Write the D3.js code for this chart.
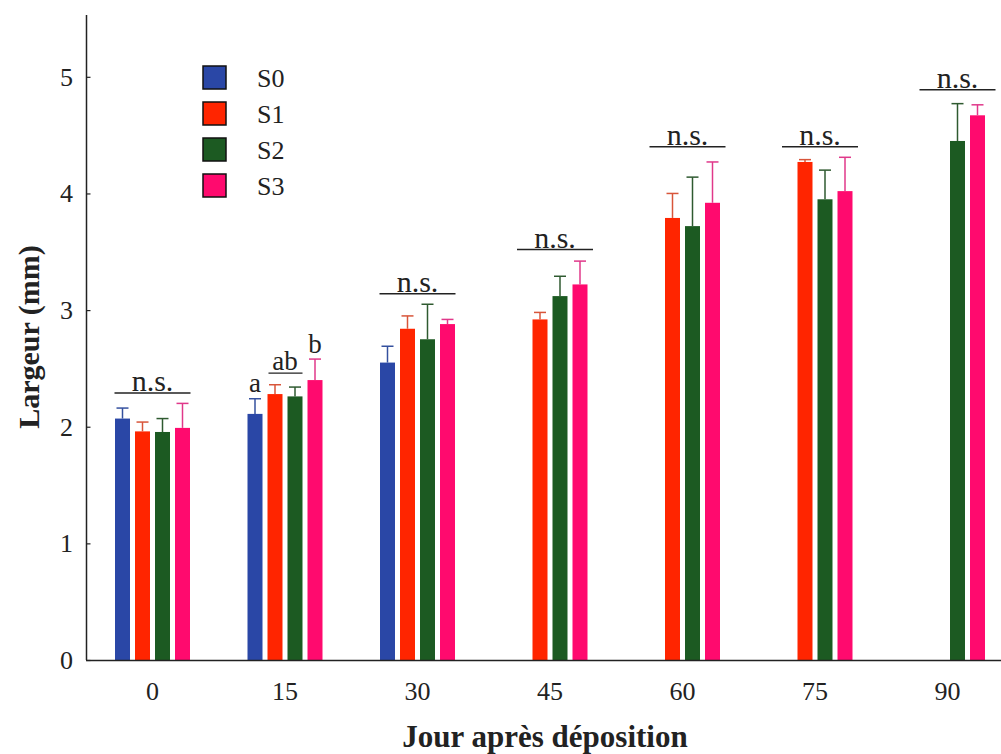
<!DOCTYPE html>
<html>
<head>
<meta charset="utf-8">
<script src="https://cdn.jsdelivr.net/npm/d3@7"></script>
<style>
  html, body { margin: 0; padding: 0; background: #fff; }
  svg { display: block; }
  text { font-family: "Liberation Serif", "Times New Roman", serif; fill: #222; }
</style>
</head>
<body>
<svg id="chart" width="1001" height="754"></svg>
<script>
// ---- data ----
const days = ["0", "15", "30", "45", "60", "75", "90"];
const seriesNames = ["S0", "S1", "S2", "S3"];
const meanS0 = [2.07, 2.11, 2.55, null, null, null, null];
const meanS1 = [1.96, 2.28, 2.84, 2.92, 3.79, 4.27, null];
const meanS2 = [1.955, 2.26, 2.75, 3.12, 3.72, 3.95, 4.45];
const meanS3 = [1.99, 2.40, 2.88, 3.22, 3.92, 4.02, 4.67];
const errS0 = [0.09, 0.13, 0.14, null, null, null, null];
const errS1 = [0.08, 0.08, 0.11, 0.06, 0.21, 0.02, null];
const errS2 = [0.115, 0.08, 0.30, 0.17, 0.42, 0.25, 0.32];
const errS3 = [0.21, 0.18, 0.04, 0.20, 0.35, 0.29, 0.09];
const yTicks = [0, 1, 2, 3, 4, 5];
// significance annotations
const nsDays = ["0", "30", "45", "60", "75", "90"];
const nsLevels = [2.29, 3.14, 3.52, 4.40, 4.40, 4.89];
const letterDay = "15";
const letterTexts = ["a", "ab", "b"];
const letterLevels = [2.30, 2.49, 2.63];
const letterSeries = [["S0"], ["S1", "S2"], ["S3"]];

const barColors = ["#2a47a6", "#ff2500", "#1c5a22", "#ff0a6e"];
const errColors = ["#34509e", "#d8553a", "#2f5a30", "#e0388a"];

const means = [meanS0, meanS1, meanS2, meanS3];
const errs = [errS0, errS1, errS2, errS3];

// ---- scales ----
const svg = d3.select("#chart");
const x = d3.scaleBand().domain(days).range([86.25, 1013.75]).padding(0);
const inner = d3.scaleBand().domain(seriesNames).range([0, 80]).paddingInner(0.25).paddingOuter(0.125);
const y = d3.scaleLinear().domain([0, 5.53]).range([660, 15]);
const groupStart = d => x(d) + x.bandwidth() / 2 - 40;

// ---- bars ----
const rows = [];
seriesNames.forEach((s, si) => {
  days.forEach((d, di) => {
    if (means[si][di] != null) rows.push({ s, si, d, v: means[si][di], e: errs[si][di] });
  });
});

const g = svg.append("g");
g.selectAll("rect.bar").data(rows).enter().append("rect")
  .attr("class", "bar")
  .attr("x", r => groupStart(r.d) + inner(r.s))
  .attr("width", inner.bandwidth())
  .attr("y", r => y(r.v))
  .attr("height", r => y(0) - y(r.v))
  .attr("fill", r => barColors[r.si]);

// error bars
const capHalf = 6;
g.selectAll("line.err").data(rows).enter().append("line")
  .attr("x1", r => groupStart(r.d) + inner(r.s) + inner.bandwidth() / 2)
  .attr("x2", r => groupStart(r.d) + inner(r.s) + inner.bandwidth() / 2)
  .attr("y1", r => y(r.v))
  .attr("y2", r => y(r.v + r.e))
  .attr("stroke", r => errColors[r.si]).attr("stroke-width", 1.5);
g.selectAll("line.cap").data(rows).enter().append("line")
  .attr("x1", r => groupStart(r.d) + inner(r.s) + inner.bandwidth() / 2 - capHalf)
  .attr("x2", r => groupStart(r.d) + inner(r.s) + inner.bandwidth() / 2 + capHalf)
  .attr("y1", r => y(r.v + r.e))
  .attr("y2", r => y(r.v + r.e))
  .attr("stroke", r => errColors[r.si]).attr("stroke-width", 1.5);

// ---- axes ----
svg.append("line").attr("x1", 86.5).attr("x2", 86.5).attr("y1", 15).attr("y2", 660)
  .attr("stroke", "#222").attr("stroke-width", 1.5);
svg.append("line").attr("x1", 86).attr("x2", 1001).attr("y1", 660.5).attr("y2", 660.5)
  .attr("stroke", "#222").attr("stroke-width", 1.5);

const yAxis = svg.append("g").attr("transform", "translate(86.5,0)")
  .call(d3.axisRight(y).tickValues(yTicks).tickSize(4).tickFormat(""));
yAxis.select(".domain").remove();
yAxis.selectAll("line").attr("stroke", "#222").attr("stroke-width", 1.2);
svg.selectAll("text.ytick").data(yTicks).enter().append("text")
  .attr("class", "ytick")
  .attr("x", 73).attr("y", d => y(d) + 9)
  .attr("text-anchor", "end").attr("font-size", 26).text(d => d);

svg.selectAll("text.xtick").data(days).enter().append("text")
  .attr("class", "xtick")
  .attr("x", d => x(d) + x.bandwidth() / 2).attr("y", 700)
  .attr("text-anchor", "middle").attr("font-size", 26).text(d => d);

svg.append("text").attr("x", 545).attr("y", 747).attr("text-anchor", "middle")
  .attr("font-size", 31).attr("font-weight", "bold").text("Jour après déposition");
svg.append("text").attr("transform", "translate(39,337) rotate(-90)").attr("text-anchor", "middle")
  .attr("font-size", 30).attr("font-weight", "bold").text("Largeur (mm)");

// ---- significance ----
nsDays.forEach((d, i) => {
  const di = days.indexOf(d);
  const present = seriesNames.filter((s, si) => means[si][di] != null);
  const pc = groupStart(d) + (inner(present[0]) + inner(present[present.length - 1]) + inner.bandwidth()) / 2;
  const cx = (x(d) + x.bandwidth() / 2 + pc) / 2;
  svg.append("line").attr("x1", cx - 38).attr("x2", cx + 38)
    .attr("y1", y(nsLevels[i])).attr("y2", y(nsLevels[i]))
    .attr("stroke", "#222").attr("stroke-width", 1.5);
  svg.append("text").attr("x", cx).attr("y", y(nsLevels[i]) - 1.5)
    .attr("text-anchor", "middle").attr("font-size", 30).text("n.s.");
});
letterTexts.forEach((t, i) => {
  const ss = letterSeries[i];
  const x0 = groupStart(letterDay) + inner(ss[0]);
  const x1 = groupStart(letterDay) + inner(ss[ss.length - 1]) + inner.bandwidth();
  const cx = (x0 + x1) / 2;
  svg.append("text").attr("x", cx).attr("y", y(letterLevels[i]))
    .attr("text-anchor", "middle").attr("font-size", 27).text(t);
  if (ss.length > 1) {
    svg.append("line").attr("x1", x0 + 1).attr("x2", x1)
      .attr("y1", y(letterLevels[i]) + 3.5).attr("y2", y(letterLevels[i]) + 3.5)
      .attr("stroke", "#222").attr("stroke-width", 1.3);
  }
});

// ---- legend ----
const leg = svg.append("g").attr("transform", "translate(203,66)");
seriesNames.forEach((s, i) => {
  leg.append("rect").attr("x", 0).attr("y", i * 36).attr("width", 23).attr("height", 23)
    .attr("fill", barColors[i]).attr("stroke", "#111").attr("stroke-width", 1.5);
  leg.append("text").attr("x", 54).attr("y", i * 36 + 21).attr("font-size", 26).text(s);
});
</script>
</body>
</html>
